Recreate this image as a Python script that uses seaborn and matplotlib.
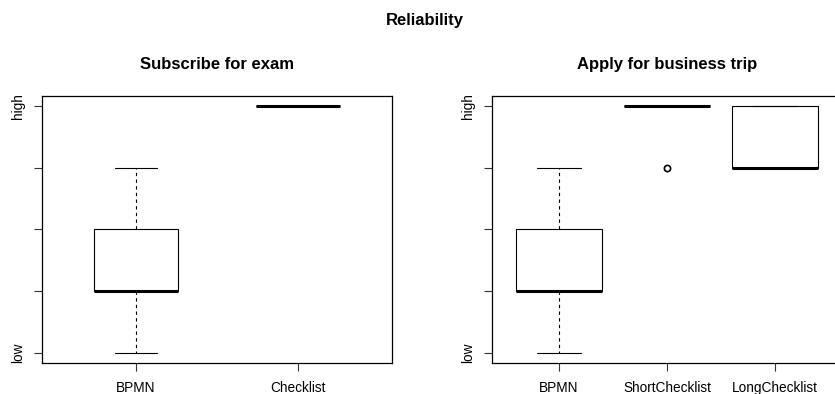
import pandas as pd
import seaborn as sns
import matplotlib.pyplot as plt

# likert answers, 1 = low ... 5 = high
exam_bpmn = [1, 2, 2, 2, 3, 3, 4]
exam_checklist = [5, 5, 5, 5, 5, 5, 5]
trip_bpmn = [1, 2, 2, 2, 3, 3, 4]
trip_short = [4, 5, 5, 5, 5, 5, 5]
trip_long = [4, 4, 4, 4, 5, 5, 5]

levels = [1, 2, 3, 4, 5]
level_labels = ["low", "", "", "", "high"]

exam = pd.DataFrame({
    "group": ["BPMN"] * len(exam_bpmn) + ["Checklist"] * len(exam_checklist),
    "score": exam_bpmn + exam_checklist,
})
trip = pd.DataFrame({
    "group": ["BPMN"] * len(trip_bpmn) + ["ShortChecklist"] * len(trip_short)
             + ["LongChecklist"] * len(trip_long),
    "score": trip_bpmn + trip_short + trip_long,
})

sns.set_style("ticks")
plt.rcParams["font.family"] = ["Liberation Sans", "DejaVu Sans"]
plt.rcParams.update({"text.color": "black", "axes.edgecolor": "black",
                     "xtick.color": "black", "ytick.color": "black",
                     "axes.labelcolor": "black"})

fig = plt.figure(figsize=(8.35, 3.94), dpi=100)
ax1 = fig.add_axes([42 / 835, 31 / 394, 350 / 835, 267 / 394])
ax2 = fig.add_axes([492 / 835, 31 / 394, 350 / 835, 267 / 394])

box_kw = dict(color="white", linecolor="black", linewidth=0.8,
              whiskerprops=dict(linestyle=(0, (3, 3))),
              medianprops=dict(linewidth=2.2),
              flierprops=dict(marker="o", markersize=4.5, markerfacecolor="white",
                              markeredgecolor="black", markeredgewidth=1.2))

sns.boxplot(data=exam, x="group", y="score", ax=ax1, width=0.52, **box_kw)
sns.boxplot(data=trip, x="group", y="score", ax=ax2, width=0.8, **box_kw)

for ax, n, title in [(ax1, 2, "Subscribe for exam"), (ax2, 3, "Apply for business trip")]:
    ax.set_xlim(-0.5 - 0.04 * n, n - 0.5 + 0.04 * n)
    ax.set_ylim(0.84, 5.16)
    ax.set_yticks(levels)
    ax.set_yticklabels(level_labels, rotation=90, va="center")
    ax.set_xlabel("")
    ax.set_ylabel("")
    ax.set_title(title, fontsize=12, fontweight="bold", pad=19.5)
    ax.tick_params(axis="both", length=6, width=0.8, labelsize=9.8, color="#333333")
    ax.tick_params(axis="x", pad=7)
    ax.tick_params(axis="y", pad=6)
    for s in ax.spines.values():
        s.set_linewidth(0.9)
        s.set_visible(True)

fig.suptitle("Reliability", x=0.509, y=1 - 20 / 394, va="center",
             fontsize=12, fontweight="bold")

fig.savefig("out.png", dpi=100)
